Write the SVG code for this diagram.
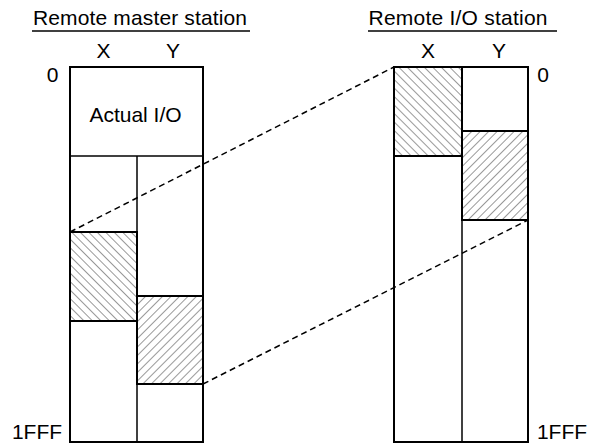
<svg xmlns="http://www.w3.org/2000/svg" width="591" height="446" viewBox="0 0 591 446">
<style>
text{font-family:"Liberation Sans",Arial,sans-serif;font-size:21px;fill:#000}
.box{fill:#fff;stroke:#000;stroke-width:2}
.ln{stroke:#000;stroke-width:1.5;fill:none}
.hb{fill:url(#hatchB);stroke:#000;stroke-width:2}
.hf{fill:url(#hatchF);stroke:#000;stroke-width:2}
.dash{stroke:#000;stroke-width:1.5;stroke-dasharray:6 4;fill:none}
</style>
<defs>
<pattern id="hatchB" patternUnits="userSpaceOnUse" width="6" height="6" patternTransform="rotate(-45)">
<rect width="6" height="6" fill="#fff"/>
<line x1="0" y1="0" x2="0" y2="6" stroke="#333" stroke-width="1"/>
</pattern>
<pattern id="hatchF" patternUnits="userSpaceOnUse" width="6" height="6" patternTransform="rotate(45)">
<rect width="6" height="6" fill="#fff"/>
<line x1="0" y1="0" x2="0" y2="6" stroke="#333" stroke-width="1"/>
</pattern>
</defs>
<g id="master">
<text x="140" y="25" text-anchor="middle" textLength="214">Remote master station</text>
<line class="ln" x1="32" y1="31" x2="250" y2="31"/>
<text x="103.5" y="58" text-anchor="middle">X</text>
<text x="173" y="58" text-anchor="middle">Y</text>
<text x="52.5" y="82" text-anchor="middle">0</text>
<text x="37" y="439" text-anchor="middle">1FFF</text>
<rect class="box" x="70" y="67" width="133" height="375"/>
<text x="135.5" y="122" text-anchor="middle">Actual I/O</text>
<line class="ln" x1="70" y1="156" x2="203" y2="156"/>
<line class="ln" x1="137" y1="156" x2="137" y2="442"/>
<rect class="hb" x="70" y="232" width="67" height="89"/>
<rect class="hf" x="137" y="296" width="66" height="88"/>
</g>
<g id="remote">
<text x="458" y="25" text-anchor="middle" textLength="179">Remote I/O station</text>
<line class="ln" x1="368" y1="31" x2="557" y2="31"/>
<text x="428" y="58" text-anchor="middle">X</text>
<text x="499" y="58" text-anchor="middle">Y</text>
<text x="543" y="82" text-anchor="middle">0</text>
<text x="562" y="439" text-anchor="middle">1FFF</text>
<rect class="box" x="394" y="67" width="134" height="375"/>
<line class="ln" x1="462" y1="67" x2="462" y2="442"/>
<rect class="hb" x="394" y="67" width="68" height="89"/>
<rect class="hf" x="462" y="131" width="66" height="89"/>
</g>
<g id="connectors">
<line class="dash" x1="70" y1="232" x2="394" y2="67"/>
<line class="dash" x1="203" y1="384" x2="528" y2="220"/>
</g>
</svg>
